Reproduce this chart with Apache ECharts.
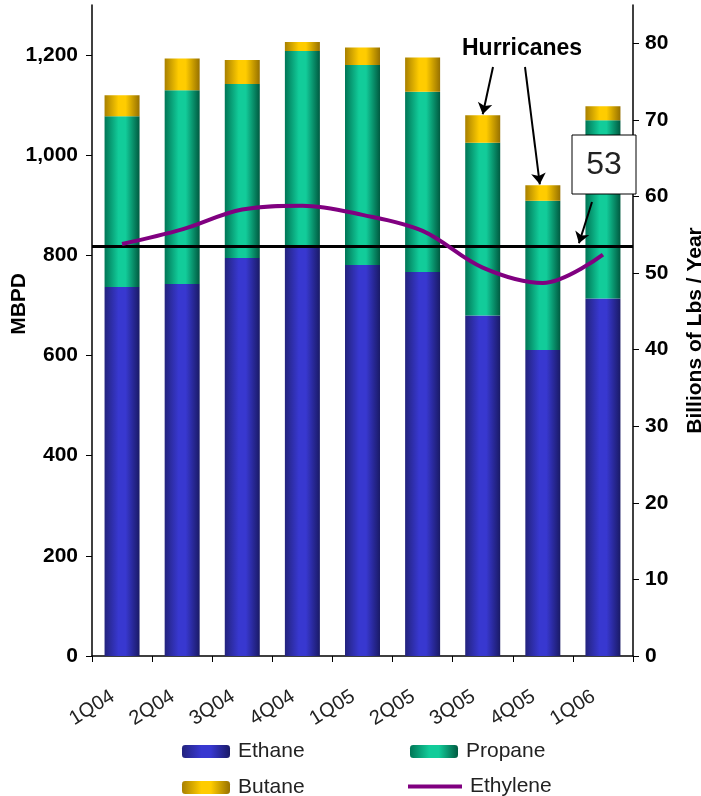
<!DOCTYPE html>
<html>
<head>
<meta charset="utf-8">
<script src="https://cdn.jsdelivr.net/npm/echarts@6/dist/echarts.min.js"></script>
<style>
 html, body { margin: 0; padding: 0; background: #fff; }
 #chart { width: 701px; height: 796px; }
</style>
</head>
<body>
<div id="chart"></div>
<script>
// quarters on the x axis
var categories = ['1Q04', '2Q04', '3Q04', '4Q04', '1Q05', '2Q05', '3Q05', '4Q05', '1Q06'];
// MBPD, stacked
var ethane  = [737, 743, 795, 817, 781, 767, 680, 611, 714];
var propane = [341, 387, 347, 391, 399, 360, 345, 298, 356];
var butane  = [42, 63, 48, 18, 35, 68, 55, 31, 28];
// billions of lbs / year (right axis)
var ethylene = [53.8, 55.7, 58.3, 58.8, 57.6, 55.5, 50.7, 48.7, 52.4];
var refLevel = 53.5;
var leftTicks = [0, 200, 400, 600, 800, 1000, 1200];
var rightTicks = [0, 10, 20, 30, 40, 50, 60, 70, 80];

var FONT = '"Liberation Sans", Arial, sans-serif';

function barGrad(edge, mid, dark) {
  return new echarts.graphic.LinearGradient(0, 0, 1, 0, [
    { offset: 0, color: edge },
    { offset: 0.4, color: mid },
    { offset: 0.6, color: mid },
    { offset: 1, color: dark }
  ]);
}

var chart = echarts.init(document.getElementById('chart'), null, { renderer: 'canvas' });

var legendText = { fontFamily: FONT, fontSize: 21, color: '#222', padding: [0, 0, 0, 3] };

var option = {
  animation: false,
  grid: { left: 92, right: 68, top: 5, bottom: 140, outerBoundsMode: 'none', containLabel: false },
  legend: [
    { data: ['Ethane'], left: 177, top: 736, itemWidth: 48, itemHeight: 13, textStyle: legendText },
    { data: ['Propane'], left: 405, top: 736, itemWidth: 48, itemHeight: 13, textStyle: legendText },
    { data: ['Butane'], left: 177, top: 772, itemWidth: 48, itemHeight: 13, textStyle: legendText },
    { data: ['Ethylene'], left: 403, top: 771, icon: 'rect', itemWidth: 54, itemHeight: 4, textStyle: legendText }
  ],
  xAxis: {
    type: 'category',
    data: categories,
    axisLine: { lineStyle: { color: '#000', width: 1.5 } },
    axisTick: { show: true, length: 6, lineStyle: { color: '#000' } },
    axisLabel: { interval: 0, rotate: 32, margin: 33, padding: [0, 11, 0, 0],
      fontFamily: FONT, fontSize: 20, color: '#222' }
  },
  yAxis: [
    {
      type: 'value', min: 0, max: 1300, interval: 200,
      splitLine: { show: false },
      axisLine: { show: true, lineStyle: { color: '#000', width: 1.5 } },
      axisTick: { show: true, length: 6, customValues: leftTicks, lineStyle: { color: '#000' } },
      axisLabel: {
        customValues: leftTicks, margin: 14,
        fontFamily: FONT, fontSize: 21, fontWeight: 'bold', color: '#000',
        formatter: function (v) { return v.toLocaleString('en-US'); }
      }
    },
    {
      type: 'value', min: 0, max: 85, interval: 10, position: 'right',
      name: 'Billions of Lbs / Year', nameLocation: 'middle', nameGap: 52, nameRotate: 90,
      nameTextStyle: { fontFamily: FONT, fontSize: 21, fontWeight: 'bold', color: '#000' },
      splitLine: { show: false },
      axisLine: { show: true, lineStyle: { color: '#000', width: 1.5 } },
      axisTick: { show: true, length: 6, customValues: rightTicks, lineStyle: { color: '#000' } },
      axisLabel: { customValues: rightTicks, margin: 12, fontFamily: FONT, fontSize: 21, fontWeight: 'bold', color: '#000' }
    }
  ],
  series: [
    { name: 'Ethane', type: 'bar', stack: 'ngl', barWidth: 35, data: ethane,
      itemStyle: { color: barGrad('#23237e', '#3838d0', '#1a1a66') } },
    { name: 'Propane', type: 'bar', stack: 'ngl', data: propane,
      itemStyle: { color: barGrad('#007656', '#12cc9a', '#005a40') } },
    { name: 'Butane', type: 'bar', stack: 'ngl', data: butane,
      itemStyle: { color: barGrad('#a88000', '#ffcc00', '#967000') } },
    { name: 'Ethylene', type: 'line', yAxisIndex: 1, data: ethylene, smooth: 0.35,
      symbol: 'none', z: 5, color: '#800080', lineStyle: { width: 4, color: '#800080' },
      markLine: {
        silent: true, symbol: 'none', label: { show: false },
        lineStyle: { color: '#000', width: 3, type: 'solid' },
        data: [{ yAxis: refLevel }]
      }
    }
  ],
  graphic: [
    { type: 'text', left: 9, top: 300 - 27, rotation: Math.PI / 2,
      style: { text: 'MBPD', font: 'bold 21px ' + FONT, fill: '#000' } },
    { type: 'text', left: 462, top: 37,
      style: { text: 'Hurricanes', font: 'bold 23px ' + FONT, fill: '#000' } },
    { type: 'rect', shape: { x: 572, y: 135, width: 64, height: 59 },
      style: { fill: '#fff', stroke: '#000', lineWidth: 1 }, z: 10 },
    { type: 'text', x: 604, y: 165, z: 11,
      style: { text: '53', font: '32px ' + FONT, fill: '#222', align: 'center', verticalAlign: 'middle' } }
  ]
};

chart.setOption(option);

// arrows pointing at the bars / reference line
var px = function (cat) { return chart.convertToPixel({ xAxisIndex: 0 }, cat); };
var pyL = function (v) { return chart.convertToPixel({ yAxisIndex: 0 }, v); };
var pyR = function (v) { return chart.convertToPixel({ yAxisIndex: 1 }, v); };
var top3Q05 = ethane[6] + propane[6] + butane[6];
var top4Q05 = ethane[7] + propane[7] + butane[7];

chart.setOption({
  series: [{}, {}, {
    markLine: {
      silent: true, symbol: ['none', 'arrow'], symbolSize: 11, label: { show: false },
      lineStyle: { color: '#000', width: 2, type: 'solid' },
      data: [
        [{ x: 493, y: 67 }, { x: px('3Q05'), y: pyL(top3Q05) - 1 }],
        [{ x: 525, y: 67 }, { x: px('4Q05') - 3, y: pyL(top4Q05) - 1 }],
        [{ x: 592, y: 202 }, { x: px('1Q06') - 24, y: pyR(refLevel) - 3 }]
      ]
    }
  }]
});
</script>
</body>
</html>
